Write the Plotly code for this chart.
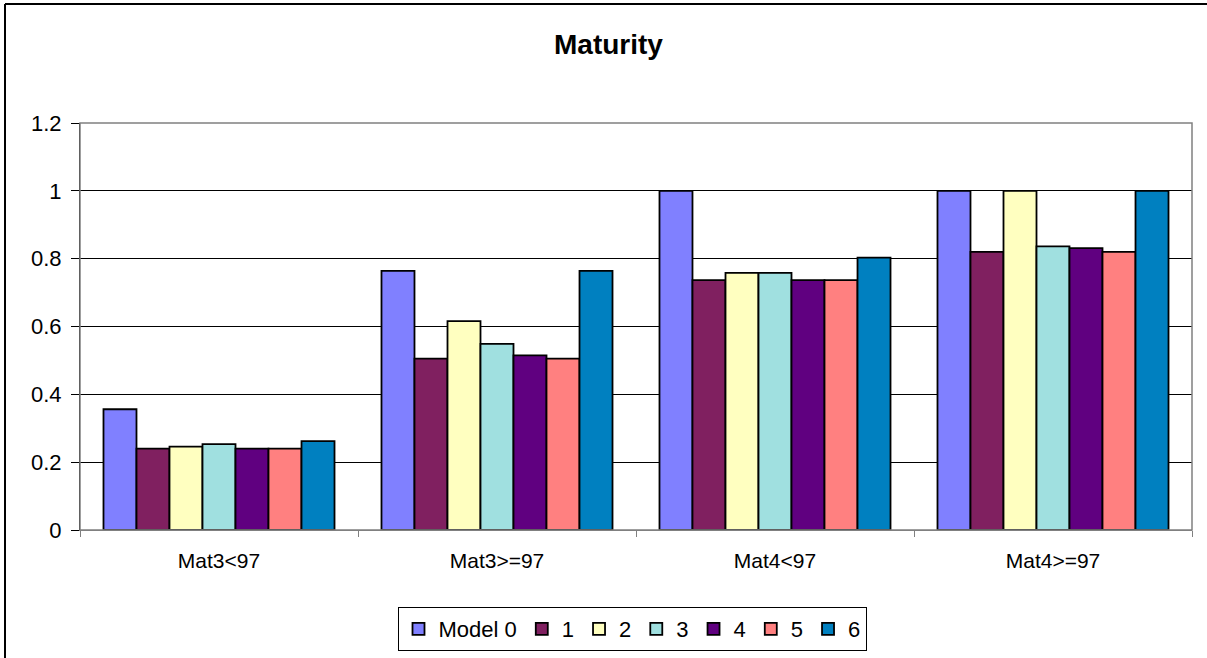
import plotly.graph_objects as go

categories = ["Mat3<97", "Mat3>=97", "Mat4<97", "Mat4>=97"]
series_names = ["Model 0", "1", "2", "3", "4", "5", "6"]
model0 = [0.356, 0.764, 1.0, 1.0]
model1 = [0.240, 0.505, 0.737, 0.820]
model2 = [0.246, 0.616, 0.758, 1.0]
model3 = [0.253, 0.549, 0.758, 0.836]
model4 = [0.240, 0.515, 0.737, 0.831]
model5 = [0.240, 0.505, 0.737, 0.820]
model6 = [0.262, 0.764, 0.803, 1.0]
colors = ["#8080FF", "#802060", "#FFFFC0", "#A0E0E0", "#600080", "#FF8080", "#0080C0"]
y_ticks = [0, 0.2, 0.4, 0.6, 0.8, 1, 1.2]
y_ticklabels = ["0", "0.2", "0.4", "0.6", "0.8", "1", "1.2"]

all_series = [model0, model1, model2, model3, model4, model5, model6]

fig = go.Figure()
for name, vals, col in zip(series_names, all_series, colors):
    fig.add_trace(go.Bar(x=categories, y=vals, name=name,
                         marker=dict(color=col, line=dict(color="black", width=1.8))))

W, H = 1207, 658
L, R, T, B = 80, 1192, 123, 530
pw, ph = R - L, B - T

def px(x):
    return (x - L) / pw

def py(y):
    return (B - y) / ph

fig.update_layout(
    width=W, height=H,
    margin=dict(l=L, r=W - R, t=T, b=H - B, autoexpand=False),
    paper_bgcolor="white", plot_bgcolor="white",
    barmode="group", bargap=0.169, bargroupgap=0,
    font=dict(family="Arial, Liberation Sans, sans-serif", size=22, color="black"),
    title=dict(text="<b>Maturity</b>", xref="paper", x=px(608.5), xanchor="center",
               yref="container", y=1 - 44 / H, yanchor="middle",
               font=dict(size=28, color="black")),
    showlegend=True,
    legend=dict(orientation="h", x=px(632), xanchor="center", y=py(607), yanchor="top",
                bordercolor="black", borderwidth=1, itemwidth=30,
                font=dict(size=22), traceorder="normal", tracegroupgap=0),
    xaxis=dict(type="category", showgrid=False, showline=True, linecolor="#808080", linewidth=1,
               ticks="outside", tickson="boundaries", ticklen=6, tickcolor="#808080",
               ticklabelstandoff=12, tickfont=dict(size=21)),
    yaxis=dict(range=[0, 1.2], tickvals=y_ticks, ticktext=y_ticklabels, showgrid=True,
               gridcolor="black", gridwidth=1, showline=True, linecolor="black", linewidth=1,
               ticks="outside", ticklen=8, tickcolor="black", zeroline=False,
               ticklabelstandoff=5, tickfont=dict(size=22)),
    shapes=[
        dict(type="rect", xref="paper", yref="paper", x0=0, x1=1, y0=0, y1=1,
             line=dict(color="#808080", width=1.5), layer="above"),
        dict(type="line", xref="paper", yref="paper", x0=px(5), x1=px(W + 5), y0=py(4), y1=py(4),
             line=dict(color="black", width=2)),
        dict(type="line", xref="paper", yref="paper", x0=px(5), x1=px(5), y0=py(4), y1=py(H + 5),
             line=dict(color="black", width=2)),
    ],
)

fig.write_html("out.html", config={"displayModeBar": False},
               post_script="document.body.style.margin='0';")
